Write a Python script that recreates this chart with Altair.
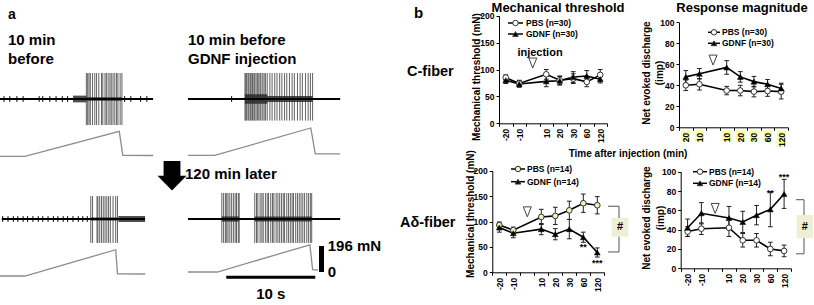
import altair as alt
import pandas as pd

W, H = 814, 305
FONT = "Liberation Sans"

# ---------------- Panel b data ----------------
TIME_KEYS = ["m20", "m10", "inj", "10", "20", "30", "60", "120"]
TIME_LABELS = ["-20", "-10", "", "10", "20", "30", "60", "120"]
C_RESP_TICK_LABELS = ["20", "10", "", "10", "20", "30", "60", "120"]
SAMPLE_KEYS = ["m20", "m10", "10", "20", "30", "60", "120"]

C_THR_PBS = [85, 74, 91, 80, 83, 77, 90]
C_THR_PBS_SD = [5, 6, 9, 8, 9, 9, 10]
C_THR_GDNF = [80, 73, 78, 79, 86, 88, 82]
C_THR_GDNF_SD = [6, 6, 10, 8, 10, 10, 7]

C_RESP_PBS = [40, 41, 35, 35, 34, 34.5, 34]
C_RESP_PBS_SD = [5, 5.5, 4, 5, 5, 5, 7]
C_RESP_GDNF = [48, 51, 57, 48, 43.5, 41, 37]
C_RESP_GDNF_SD = [6, 5, 6.5, 5, 5, 4.5, 5]

AD_THR_PBS = [93, 83, 109, 111, 122, 136, 132]
AD_THR_PBS_SD = [6, 6, 15, 17, 18, 18, 17]
AD_THR_GDNF = [88, 77, 85, 75, 85, 69, 39]
AD_THR_GDNF_SD = [9, 9, 11, 11, 19, 10, 9]

AD_RESP_PBS = [38, 41, 42, 29, 29, 20, 18]
AD_RESP_PBS_SD = [5, 6, 9, 7, 7, 7, 6]
AD_RESP_GDNF = [42, 57, 52, 48, 55, 61, 77]
AD_RESP_GDNF_SD = [9, 11, 12, 11, 10, 18, 15]

INJ_MARK = {"c_thr": 112, "c_resp": 64, "ad_thr": 119, "ad_resp": 62}
AD_THR_STARS = [("60", 50, "**"), ("120", 19, "***")]
AD_RESP_STARS = [("60", 78, "**"), ("120", 94, "***")]
AD_THR_BRACKET = (130, 40)
AD_RESP_BRACKET = (71, 15)

# ---------------- Panel a data (time in s, force in mN, spikes relative) ----------------
TL_SPIKES = [9.7, 9.85, 10.0, 10.15, 10.4, 10.65, 10.85, 11.1, 11.4, 11.55, 11.8, 11.95,
             12.15, 12.35, 12.5, 12.7, 12.9, 13.1, 13.25, 13.5, 13.7]
TL_SPIKE_RANGE = (-1.0, 1.0)
TL_SMALL = [0.45, 1.1, 1.9, 2.6, 4.4, 4.8, 5.6, 6.3, 7.0, 7.6, 14.0, 14.7, 15.8, 16.5]
TL_NOISE = [(8.2, 9.7, 0.13), (9.7, 13.7, 0.07)]
TL_SPAN = (0, 17.2)
TL_FORCE_T = [0, 2.8, 13.4, 13.8, 17.2]
TL_FORCE = [0, 0, 188, 8, 6]

TR_SPIKES = [6.4, 6.5, 6.6, 6.75, 6.85, 7.0, 7.1, 7.25, 7.4, 7.5, 7.65, 7.8, 7.95, 8.1, 8.2,
             8.4, 8.55, 8.7, 8.9, 9.2, 9.45, 9.75, 10.0, 10.3, 10.55, 10.85, 11.1, 11.4, 11.7,
             11.95, 12.3, 12.6, 12.85, 13.2, 13.5, 13.75, 14.0]
TR_SPIKE_RANGE = (-0.83, 1.0)
TR_SMALL = [4.9]
TR_NOISE = [(6.4, 8.9, 0.18), (8.9, 14.0, 0.12)]
TR_SPAN = (0, 17.1)
TR_FORCE_T = [0, 3.0, 13.8, 14.3, 17.1]
TR_FORCE = [0, 0, 206, 10, 10]

BL_SPIKES = [10.2, 10.4, 10.9, 11.0, 11.2, 11.4, 11.6, 11.8, 12.0, 12.2, 12.4, 12.7, 13.0, 13.2]
BL_SPIKE_RANGE = (-0.92, 0.88)
BL_SMALL = [0.3, 0.9, 1.5, 2.0, 2.6, 3.1, 3.7, 4.3, 4.8, 5.4, 6.0, 6.5, 7.1, 7.6, 8.2, 8.8, 9.3, 9.8]
BL_NOISE = [(13.3, 16.3, 0.12), (10.2, 13.2, 0.06)]
BL_SPAN = (0.2, 16.3)
BL_FORCE_T = [0, 2.8, 13.0, 13.2, 16.3]
BL_FORCE = [0, 0, 198, 17, 15]

BR_SPIKES = [3.8, 4.0, 4.2, 4.35, 4.5, 4.7, 4.9, 5.1, 5.3, 5.45, 5.65, 5.75, 7.5, 7.7, 7.85,
             8.1, 8.3, 8.45, 8.7, 8.9, 9.05, 9.3, 9.5, 9.65, 9.9, 10.1, 10.3, 10.5, 10.7, 10.85,
             11.1, 11.3, 11.5, 11.7, 11.85, 12.1, 12.3, 12.5, 12.7, 12.9, 13.1, 13.35, 13.55,
             13.75, 13.9]
BR_SPIKE_RANGE = (-0.92, 1.0)
BR_SMALL = []
BR_NOISE = [(3.8, 5.75, 0.1), (7.5, 13.9, 0.1)]
BR_SPAN = (0, 17.1)
BR_FORCE_T = [0, 3.3, 13.7, 14.0, 14.6]
BR_FORCE = [0, 0, 205, 17, 15]

FORCE_BAR_MN = 196
TIME_BAR_S = 10

# ---------------- helpers ----------------
ONE = alt.Data(values=[{"a": 1}])


def txt(s, x, y, size, align="left", angle=0, weight="bold", color="black"):
    kw = dict(text=s, align=align, baseline="middle", font=FONT, fontSize=size,
              fontWeight=weight, color=color)
    if angle:
        kw["angle"] = angle
    return alt.Chart(ONE).mark_text(**kw).encode(x=alt.value(x), y=alt.value(y))


def label_expr(labels):
    e = "''"
    for k, l in zip(TIME_KEYS[::-1], labels[::-1]):
        e = f"datum.value=='{k}'?'{l}':({e})"
    return e


AX = dict(labelFont=FONT, labelFontWeight="bold", labelFontSize=8.5, labelColor="black",
          domainColor="black", tickColor="black", tickSize=3, labelPadding=2, grid=False,
          title=None, domainWidth=1, tickWidth=1, zindex=2)


def line_chart(geo, pbs, pbs_sd, gdnf, gdnf_sd, tick_labels, pbs_fill, inj):
    rows = []
    for g, vals, sds in (("PBS", pbs, pbs_sd), ("GDNF", gdnf, gdnf_sd)):
        for k, v, s in zip(SAMPLE_KEYS, vals, sds):
            rows.append(dict(key=k, grp=g, val=v, lo=v - s, hi=v + s))
    df = pd.DataFrame(rows)
    xsc = alt.Scale(type="band", domain=TIME_KEYS, range=[geo["x0"], geo["x1"]],
                    paddingInner=0, paddingOuter=0)
    ysc = alt.Scale(domain=[0, geo["ymax"]], range=[geo["yb"], geo["yt"]], nice=False, zero=False)

    def X(axis=None):
        return alt.X("key:N", scale=xsc, bandPosition=0.5, axis=axis)

    xaxis = alt.Axis(orient="bottom", offset=geo["yb"] - H, tickBand="extent",
                     labelExpr=label_expr(tick_labels), labelAngle=270, **AX)
    yaxis = alt.Axis(orient="left", offset=-geo["x0"], values=geo["ticks"], **AX)

    base = alt.Chart(df)
    layers = []
    layers.append(base.mark_rule(color="#222", strokeWidth=1).encode(
        x=X(), y=alt.Y("lo:Q", scale=ysc, axis=None), y2="hi:Q"))
    for f in ("lo", "hi"):
        layers.append(base.mark_point(shape="M-1,0L1,0", size=22, filled=False, color="#222",
                                      strokeWidth=1, opacity=1).encode(
            x=X(), y=alt.Y(f"{f}:Q", scale=ysc, axis=None)))
    layers.append(base.mark_line(color="black", strokeWidth=1.6).encode(
        x=X(xaxis), y=alt.Y("val:Q", scale=ysc, axis=yaxis), detail="grp:N"))
    layers.append(base.transform_filter("datum.grp=='PBS'").mark_point(
        shape="circle", filled=True, fill=pbs_fill, stroke="#333", strokeWidth=1, size=32,
        opacity=1).encode(x=X(), y=alt.Y("val:Q", scale=ysc, axis=None)))
    layers.append(base.transform_filter("datum.grp=='GDNF'").mark_point(
        shape="triangle-up", filled=True, fill="black", stroke="black", strokeWidth=0.5,
        size=34, opacity=1).encode(x=X(), y=alt.Y("val:Q", scale=ysc, axis=None)))
    inj_df = pd.DataFrame([{"key": "inj", "val": inj}])
    layers.append(alt.Chart(inj_df).mark_point(
        shape="M-0.8,-1L0.8,-1L0,1Z", size=100, filled=False, stroke="#444", strokeWidth=1,
        opacity=1).encode(x=X(), y=alt.Y("val:Q", scale=ysc, axis=None)))
    return layers, X, ysc


def legend(xl0, xl1, xt, y, label, fill, shape):
    r = alt.Chart(ONE).mark_rule(color="black", strokeWidth=1.5).encode(
        x=alt.value(xl0), x2=alt.value(xl1), y=alt.value(y))
    p = alt.Chart(ONE).mark_point(shape=shape, filled=True, fill=fill, stroke="#333",
                                  strokeWidth=1, size=30, opacity=1).encode(
        x=alt.value((xl0 + xl1) / 2), y=alt.value(y))
    return [r, p, txt(label, xt, y, 8.5)]


def trace(x0, base, fbase, spikes, srange, small, noise, span, ft, fv):
    xsc = alt.Scale(domain=[0, 10], range=[x0, x0 + 89], nice=False, zero=False)
    ysc = alt.Scale(domain=[-1, 1], range=[base + 26, base - 26], nice=False, zero=False)
    fsc = alt.Scale(domain=[0, 196], range=[fbase, fbase - 26], nice=False, zero=False)
    L = []
    sd = pd.DataFrame([{"t": t, "lo": srange[0], "hi": srange[1]} for t in spikes])
    L.append(alt.Chart(sd).mark_rule(color="#2e2e2e", strokeWidth=1, opacity=0.75).encode(
        x=alt.X("t:Q", scale=xsc, axis=None), y=alt.Y("lo:Q", scale=ysc, axis=None), y2="hi:Q"))
    nd = pd.DataFrame([{"t0": a, "t1": b, "lo": -c, "hi": c} for a, b, c in noise])
    L.append(alt.Chart(nd).mark_rect(color="#222", opacity=0.8).encode(
        x=alt.X("t0:Q", scale=xsc, axis=None), x2="t1:Q",
        y=alt.Y("lo:Q", scale=ysc, axis=None), y2="hi:Q"))
    bd = pd.DataFrame([{"t0": span[0], "t1": span[1], "v": 0}])
    L.append(alt.Chart(bd).mark_rule(color="black", strokeWidth=2).encode(
        x=alt.X("t0:Q", scale=xsc, axis=None), x2="t1:Q", y=alt.Y("v:Q", scale=ysc, axis=None)))
    if small:
        md = pd.DataFrame([{"t": t, "lo": -0.11, "hi": 0.11} for t in small])
        L.append(alt.Chart(md).mark_rule(color="black", strokeWidth=1).encode(
            x=alt.X("t:Q", scale=xsc, axis=None), y=alt.Y("lo:Q", scale=ysc, axis=None), y2="hi:Q"))
    fd = pd.DataFrame({"t": ft, "f": fv})
    L.append(alt.Chart(fd).mark_line(color="#8c8c8c", strokeWidth=1.3).encode(
        x=alt.X("t:Q", scale=xsc, axis=None), y=alt.Y("f:Q", scale=fsc, axis=None)))
    return L, xsc, fsc


layers = []

# ---------------- Panel a ----------------
layers += trace(0, 99, 156.3, TL_SPIKES, TL_SPIKE_RANGE, TL_SMALL, TL_NOISE, TL_SPAN, TL_FORCE_T, TL_FORCE)[0]
layers += trace(188, 99, 155.3, TR_SPIKES, TR_SPIKE_RANGE, TR_SMALL, TR_NOISE, TR_SPAN, TR_FORCE_T, TR_FORCE)[0]
layers += trace(0, 219, 276, BL_SPIKES, BL_SPIKE_RANGE, BL_SMALL, BL_NOISE, BL_SPAN, BL_FORCE_T, BL_FORCE)[0]
br_layers, br_x, br_f = trace(188, 219, 272, BR_SPIKES, BR_SPIKE_RANGE, BR_SMALL, BR_NOISE, BR_SPAN,
                              BR_FORCE_T, BR_FORCE)
layers += br_layers

# scale bars
fb = pd.DataFrame([{"t": 15.0, "f0": 0, "f1": FORCE_BAR_MN}])
layers.append(alt.Chart(fb).mark_rule(color="black", strokeWidth=5).encode(
    x=alt.X("t:Q", scale=br_x, axis=None), y=alt.Y("f0:Q", scale=br_f, axis=None), y2="f1:Q"))
fl = pd.DataFrame([{"t": 15.7, "f": FORCE_BAR_MN, "s": f"{FORCE_BAR_MN} mN"}, {"t": 15.7, "f": 0, "s": "0"}])
layers.append(alt.Chart(fl).mark_text(align="left", baseline="middle", font=FONT, fontSize=15,
                                      fontWeight="bold", color="black").encode(
    x=alt.X("t:Q", scale=br_x, axis=None), y=alt.Y("f:Q", scale=br_f, axis=None), text="s:N"))
tb = pd.DataFrame([{"t0": 4.3, "t1": 4.3 + TIME_BAR_S, "f": -40}])
layers.append(alt.Chart(tb).mark_rule(color="black", strokeWidth=3).encode(
    x=alt.X("t0:Q", scale=br_x, axis=None), x2="t1:Q", y=alt.Y("f:Q", scale=br_f, axis=None)))
tl = pd.DataFrame([{"t": 4.3 + TIME_BAR_S / 2, "f": -166, "s": f"{TIME_BAR_S} s"}])
layers.append(alt.Chart(tl).mark_text(align="center", baseline="middle", font=FONT, fontSize=15,
                                      fontWeight="bold", color="black").encode(
    x=alt.X("t:Q", scale=br_x, axis=None), y=alt.Y("f:Q", scale=br_f, axis=None), text="s:N"))

layers.append(txt("a", 8, 15, 14))
layers.append(alt.Chart(ONE).mark_text(text=["10 min", "before"], align="left", baseline="middle",
                                       font=FONT, fontSize=15, fontWeight="bold", lineHeight=19,
                                       color="black").encode(x=alt.value(8), y=alt.value(40)))
layers.append(alt.Chart(ONE).mark_text(text=["10 min before", "GDNF injection"], align="left",
                                       baseline="middle", font=FONT, fontSize=15, fontWeight="bold",
                                       lineHeight=19, color="black").encode(x=alt.value(188), y=alt.value(40)))
layers.append(alt.Chart(ONE).mark_point(
    shape="M-0.55,-1L0.55,-1L0.55,0.1L0.9,0.1L0,1L-0.9,0.1L-0.55,0.1Z", size=729, filled=True,
    fill="black", stroke="black", opacity=1).encode(x=alt.value(172), y=alt.value(175.5)))
layers.append(txt("120 min later", 185, 174, 15))

# ---------------- Panel b ----------------
GEO = {
    "c_thr": dict(x0=499, x1=607, yb=123.3, yt=15.7, ymax=200, ticks=[0, 50, 100, 150, 200]),
    "c_resp": dict(x0=679, x1=788, yb=127.3, yt=22.3, ymax=100, ticks=[0, 20, 40, 60, 80, 100]),
    "ad_thr": dict(x0=492.3, x1=604.3, yb=272.3, yt=170.7, ymax=200, ticks=[0, 50, 100, 150, 200]),
    "ad_resp": dict(x0=680.7, x1=791, yb=268.3, yt=171.7, ymax=100, ticks=[0, 20, 40, 60, 80, 100]),
}

# yellow highlight behind the C-fiber response tick labels
hl = pd.DataFrame({"key": TIME_KEYS, "lab": C_RESP_TICK_LABELS})
hl_x = alt.Scale(type="band", domain=TIME_KEYS, range=[GEO["c_resp"]["x0"], GEO["c_resp"]["x1"]],
                 paddingInner=0, paddingOuter=0)
for n, y2 in ((2, 141.5), (3, 146.5)):
    layers.append(alt.Chart(hl).transform_filter(f"length(datum.lab)=={n}").mark_bar(
        width=9, color="#ffff9e").encode(
        x=alt.X("key:N", scale=hl_x, bandPosition=0.5, axis=None),
        y=alt.value(130.5), y2=alt.value(y2)))

l1, _, _ = line_chart(GEO["c_thr"], C_THR_PBS, C_THR_PBS_SD, C_THR_GDNF, C_THR_GDNF_SD,
                      TIME_LABELS, "white", INJ_MARK["c_thr"])
l2, _, _ = line_chart(GEO["c_resp"], C_RESP_PBS, C_RESP_PBS_SD, C_RESP_GDNF, C_RESP_GDNF_SD,
                      C_RESP_TICK_LABELS, "white", INJ_MARK["c_resp"])
l3, X3, y3 = line_chart(GEO["ad_thr"], AD_THR_PBS, AD_THR_PBS_SD, AD_THR_GDNF, AD_THR_GDNF_SD,
                        TIME_LABELS, "#f3f0bd", INJ_MARK["ad_thr"])
l4, X4, y4 = line_chart(GEO["ad_resp"], AD_RESP_PBS, AD_RESP_PBS_SD, AD_RESP_GDNF, AD_RESP_GDNF_SD,
                        TIME_LABELS, "white", INJ_MARK["ad_resp"])
layers += l1 + l2 + l3 + l4

# stars
for stars, Xf, ys in ((AD_THR_STARS, X3, y3), (AD_RESP_STARS, X4, y4)):
    sd = pd.DataFrame([{"key": k, "v": v, "s": s} for k, v, s in stars])
    layers.append(alt.Chart(sd).mark_text(align="center", baseline="middle", font=FONT, fontSize=9,
                                          fontWeight="bold", color="black").encode(
        x=Xf(), y=alt.Y("v:Q", scale=ys, axis=None), text="s:N"))

# brackets and '#' boxes
for (top, bot), ys, xa, xb, box in ((AD_THR_BRACKET, y3, 608, 619, (611.7, 628.3, 218, 236.7)),
                                    (AD_RESP_BRACKET, y4, 796, 804, (796.7, 813, 215, 238))):
    bd = pd.DataFrame([{"top": top, "bot": bot}])
    layers.append(alt.Chart(bd).mark_rule(color="#555", strokeWidth=1).encode(
        x=alt.value(xb), y=alt.Y("top:Q", scale=ys, axis=None), y2="bot:Q"))
    for f in ("top", "bot"):
        layers.append(alt.Chart(bd).mark_rule(color="#555", strokeWidth=1).encode(
            x=alt.value(xa), x2=alt.value(xb), y=alt.Y(f"{f}:Q", scale=ys, axis=None)))
    layers.append(alt.Chart(ONE).mark_rect(color="#eeefd5").encode(
        x=alt.value(box[0]), x2=alt.value(box[1]), y=alt.value(box[2]), y2=alt.value(box[3])))
    layers.append(txt("#", (box[0] + box[1]) / 2, (box[2] + box[3]) / 2, 11, align="center"))

# legends
layers += legend(508, 523, 526, 23, "PBS (n=30)", "white", "circle")
layers += legend(508, 523, 526, 34, "GDNF (n=30)", "black", "triangle-up")
layers += legend(708, 720, 722, 32.3, "PBS (n=30)", "white", "circle")
layers += legend(708, 720, 722, 43.3, "GDNF (n=30)", "black", "triangle-up")
layers += legend(511, 525, 527, 169, "PBS (n=14)", "#f3f0bd", "circle")
layers += legend(511, 525, 527, 181.7, "GDNF (n=14)", "black", "triangle-up")
layers += legend(693, 707, 709, 171.7, "PBS (n=14)", "white", "circle")
layers += legend(693, 707, 709, 183.3, "GDNF (n=14)", "black", "triangle-up")

# titles and labels
layers.append(txt("b", 414, 13, 15))
layers.append(txt("Mechanical threshold", 558, 8, 13, align="center"))
layers.append(txt("Response magnitude", 742, 8, 13, align="center"))
layers.append(txt("injection", 540, 53, 11, align="center"))
layers.append(txt("C-fiber", 407, 72, 14.5))
layers.append(txt("A\u03b4-fiber", 400, 223, 14.5))
layers.append(txt("Time after injection (min)", 628, 154, 10, align="center"))
layers.append(txt("Mechanical threshold (mN)", 477, 77, 10, align="center", angle=270))
layers.append(txt("Mechanical threshold (mN)", 471, 214, 10, align="center", angle=270))
layers.append(txt("Net evoked discharge", 647, 73, 10, align="center", angle=270))
layers.append(txt("(imp)", 660, 73, 10, align="center", angle=270))
layers.append(txt("Net evoked discharge", 647, 218, 10, align="center", angle=270))
layers.append(txt("(imp)", 661, 218, 10, align="center", angle=270))

chart = alt.layer(*layers).resolve_scale(x="independent", y="independent").resolve_axis(
    x="independent", y="independent").properties(
    width=W, height=H, padding=0, autosize=alt.AutoSizeParams(type="none"),
    background="white").configure_view(stroke=None)

chart.save("out.html", embed_options={"renderer": "svg", "actions": False})
